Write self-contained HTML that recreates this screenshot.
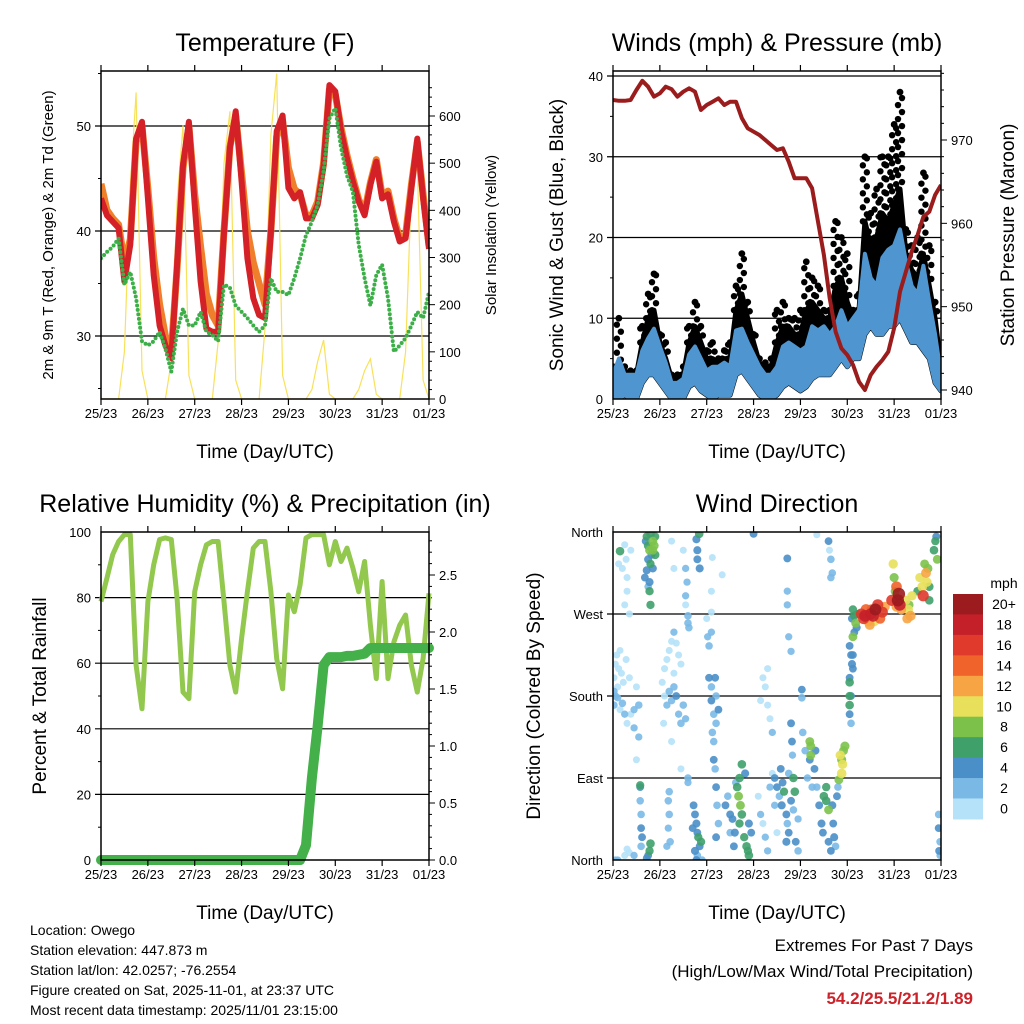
<!DOCTYPE html>
<html><head><meta charset="utf-8"><title>Weather station plots</title>
<style>
html,body{margin:0;padding:0;background:#fff;}
svg{display:block;font-family:"Liberation Sans",Arial,sans-serif;}
</style></head>
<body>
<svg id="chart" width="1024" height="1024" viewBox="0 0 1024 1024">
<rect width="1024" height="1024" fill="#fff"/>
<g id="p1"></g>
<g id="p2"></g>
<g id="p3"></g>
<g id="p4"></g>
<g font-size="14" fill="#000">
<text x="30" y="935">Location: Owego</text>
<text x="30" y="955">Station elevation: 447.873 m</text>
<text x="30" y="975">Station lat/lon: 42.0257; -76.2554</text>
<text x="30" y="995">Figure created on Sat, 2025-11-01, at 23:37 UTC</text>
<text x="30" y="1015">Most recent data timestamp: 2025/11/01 23:15:00</text>
</g>
<g text-anchor="end">
<text x="973" y="951" font-size="17">Extremes For Past 7 Days</text>
<text x="973" y="977" font-size="17">(High/Low/Max Wind/Total Precipitation)</text>
<text x="973" y="1004" font-size="17" font-weight="bold" fill="#cc2229">54.2/25.5/21.2/1.89</text>
</g>
</svg>
<script>
// ---- data (3-hourly samples, 25/23 .. 01/23) ----
const dayLabels = ["25/23","26/23","27/23","28/23","29/23","30/23","31/23","01/23"];
const tempRed = [43.1,41.5,40.9,40.3,35.2,38.7,48.8,50.4,43.1,35.8,31.0,29.1,27.9,36.8,46.3,50.4,42.5,35.2,30.7,30.4,30.4,39.9,47.9,51.4,44.7,37.4,33.6,32.0,31.7,39.9,49.5,51.0,44.1,43.1,43.7,41.2,41.2,42.5,46.3,53.9,53.3,49.5,46.9,44.7,42.8,41.5,44.4,46.6,43.1,43.5,40.9,39.0,39.3,44.1,48.8,43.1,38.3];
const tempOrange = [44.5,42.0,41.2,40.6,37.0,39.2,48.5,50.0,44.0,37.5,33.0,30.0,28.5,36.5,46.0,50.0,43.5,38.5,34.0,32.0,31.0,40.0,48.0,51.0,45.5,40.0,37.0,35.0,33.0,40.0,49.0,50.5,46.0,44.0,43.5,41.5,41.5,42.8,46.5,53.5,53.0,49.8,47.2,45.0,43.0,41.8,44.6,46.8,43.4,43.8,41.2,39.3,39.6,44.4,48.5,43.5,38.6];
const dewGreen = [37.4,38.0,38.5,39.3,34.9,36.1,33.6,29.5,29.1,29.5,30.4,28.8,26.6,30.4,32.6,31.0,31.0,32.3,30.4,30.1,29.5,34.9,34.6,32.9,32.3,31.7,31.0,30.4,31.0,35.5,34.2,34.2,33.9,35.5,37.4,39.6,40.9,42.5,45.7,50.7,51.7,47.9,45.3,43.7,38.7,35.5,32.9,35.8,36.8,33.6,28.5,29.1,29.8,31.0,32.3,31.7,34.2];
const solar = [0,0,0,0,100,450,650,60, 0,0,0,0,80,420,580,50, 0,0,0,0,120,500,610,40, 0,0,0,0,150,560,690,50, 0,0,0,0,20,80,125,10, 0,0,0,0,20,60,85,10, 0,0,0,0,100,450,500,40, 0];
const pressure = [974.8,974.7,974.7,974.8,976.0,977.1,976.4,975.2,975.6,976.4,976.1,975.2,975.8,976.2,975.8,973.6,974.2,974.6,975.0,974.2,974.6,974.6,972.6,971.4,971.0,970.6,970.0,969.4,968.8,969.0,967.4,965.4,965.4,965.4,964.2,960.2,956.2,951.0,947.0,945.0,944.2,943.0,941.0,940.0,941.8,942.8,943.6,944.6,947.4,951.8,954.2,956.6,958.6,960.8,961.4,963.4,964.6];
const windHi = [3,5,3,3,3,6,7.5,8.7,6.5,4.5,2,2,2.5,5.5,6.5,5,3.5,4,4,4.5,4,8.5,8.7,7,5.5,4,3,3,4,6.5,7,6.5,6,6.5,9,8.5,9,8,9,11,9,10,11,18,15,14,17.5,18.5,19,21,17,14,13,16.5,12,8,3];
const windLo = [0,0,0.5,0,0,2,3,3,2,1,0,0,0,1.5,2,1,0.5,0,0.5,0.5,0.5,3,3.5,2.5,1.5,0.5,0,0,0.5,1.5,2,1.5,1,1.5,2.5,3,3,3,4,5,4,5,5,8,9,8,8,9,9,10,8.5,7,7,6,5,2,1];
const gustMid = [3,4,3.5,3,3,7,10,11,7,5,2.5,2.5,3,7,9,7,5,5,4.5,5,5,11,13,10,7,4.5,4,4,7,9,9,8,8,11,12,11,10,10,14,15,12,10,11,22,19,20,23,22,24,26,18,16,15,18,14,10,4];
const gustHi = [4,10,4,3.5,3.5,9,13,15.5,8,7,3,3,4,9,12,9,6,7,5,6,7,14,18,12,8,5,4.5,5,11,12,10,10,11,17,15,14,11,11,22,20,18,11,13,30,23,26,30,30,34,38,21,19,20,28,19,12,5];
const rh = [78.8,85.9,93.1,97.1,99.2,99.2,59.4,46.1,78.8,90,97.7,98.2,97.7,79.8,51.2,49.2,81.8,90,96.1,97.1,97.1,78.8,59.4,51.2,67.6,81.8,95.1,97.1,97.1,81.8,61.4,52.2,80.8,75.7,83.9,98.2,99.2,99.2,99.2,90,97.1,91,95.1,89,81.8,91,71.6,55.3,84.9,55.3,66.5,71.6,74.7,59.4,51.2,61.4,81.3];
const precip = [0,0,0,0,0,0,0,0,0,0,0,0,0,0,0,0,0,0,0,0,0,0,0,0,0,0,0,0,0,0,0,0,0,0,0,0.13,0.72,1.18,1.71,1.78,1.78,1.78,1.79,1.79,1.8,1.81,1.86,1.86,1.86,1.86,1.86,1.86,1.86,1.86,1.86,1.86,1.86];
// wind direction observations: [day, degrees, mph]
const dirObs = [
[0.02,200,1],[0.05,215,1],[0.08,225,1],[0.12,210,1],[0.15,230,0.5],[0.18,205,1],[0.22,195,1],[0.28,220,1],[0.35,200,1],[0.5,190,1],[0.02,170,3],[0.05,180,3],[0.1,178,2],[0.15,165,1],[0.2,172,3],[0.25,160,2],[0.3,150,1],[0.02,185,3],[0.1,190,1],[0.38,160,1],[0.45,145,2],
[0.15,339,7],[0.25,346,1],[0.28,330,1],[0.2,320,1],[0.3,310,1],[0.3,295,1],[0.25,280,1],[0.12,325,1],[0.38,340,1],[0.35,270,1],
[0.25,5,1],[0.3,12,1],[0.35,8,1],[0.45,5,2],[0.05,0,2],[0.1,0,2],
[0.58,80,4],[0.58,65,3],[0.6,50,3],[0.6,35,4],[0.62,25,4],[0.6,15,3],[0.58,82,6],[0.55,135,2],[0.5,110,1],[0.45,165,2],[0.55,170,3],
[0.7,350,5],[0.72,355,6],[0.75,345,7],[0.78,340,8],[0.8,358,7],[0.85,350,8],[0.88,345,8],[0.9,335,7],[0.75,330,5],[0.8,325,6],[0.85,320,5],[0.72,318,5],[0.9,355,6],[0.82,335,5],[0.85,340,8],
[0.78,305,5],[0.78,295,6],[0.8,280,6],[0.68,310,4],[0.75,300,3],[0.8,18,7],[0.78,10,6],[0.75,5,4],[0.72,2,4],
[1.05,195,1],[1.1,210,1],[1.15,220,1],[1.2,230,1],[1.25,240,1],[1.3,250,2],[1.35,238,1],[1.4,225,1],[1.45,215,1],[1.1,180,1],[1.15,170,2],[1.2,185,3],[1.25,175,3],[1.3,190,3],[1.35,180,4],[1.4,160,2],[1.45,150,3],[1.5,170,3],[1.55,155,2],[1.3,205,1],[1.08,150,1],[1.25,130,1],[1.45,100,1],
[1.18,65,3],[1.2,50,3],[1.18,35,2],[1.22,20,3],[1.15,15,2],[1.2,75,3],
[1.25,350,1],[1.3,320,1],[1.5,340,1],[1.55,320,2],[1.58,305,2],[1.55,290,2],[1.55,280,1],[1.6,268,3],[1.62,255,3],[1.6,260,3],[1.6,90,3],[1.6,85,2],
[1.72,60,4],[1.75,50,4],[1.78,40,5],[1.8,30,4],[1.82,25,6],[1.85,15,4],[1.75,10,5],[1.8,5,3],[1.9,0,3],[1.88,20,6],[1.78,0,4],[1.7,35,4],
[1.78,352,5],[1.8,340,5],[1.8,330,4],[1.85,320,5],[1.84,358,7],
[2.0,265,1],[2.02,245,2],[2.05,235,3],[2.1,250,2],[2.05,200,4],[2.1,190,3],[2.1,175,4],[2.15,160,3],[2.2,150,3],[2.18,200,4],[2.2,180,3],[2.25,165,4],[2.12,140,3],[2.15,130,3],
[2.15,110,4],[2.18,100,3],[2.2,80,4],[2.22,60,3],[2.25,40,3],[2.2,25,4],
[2.12,332,1],[2.33,313,1],[2.1,295,1],[2.1,272,1],
[2.4,60,4],[2.45,70,3],[2.5,50,4],[2.55,45,4],[2.6,30,5],[2.65,80,7],[2.68,70,8],[2.7,90,7],[2.72,60,8],[2.75,50,7],[2.7,40,6],[2.8,25,6],[2.85,15,7],[2.9,5,7],[2.88,10,6],[2.75,105,7],[2.82,95,5],[2.5,30,3],[2.58,15,4],[2.62,85,3],[2.9,40,5],[2.95,30,4],
[3.0,358,4],
[3.2,200,1],[3.25,190,1],[3.3,170,1],[3.35,155,1],[3.4,140,2],[3.3,210,1],[3.15,175,1],
[3.1,70,1],[3.15,50,2],[3.2,40,1],[3.25,25,2],[3.3,10,2],[3.35,80,2],[3.4,95,1],[3.45,60,2],[3.5,30,1],
[3.45,90,4],[3.5,80,4],[3.55,70,3],[3.6,60,5],[3.62,85,4],[3.65,75,6],[3.7,50,4],[3.72,40,3],[3.75,30,4],[3.8,65,4],[3.85,55,3],[3.9,20,4],[3.95,10,3],[3.95,45,2],[3.58,100,4],[3.75,95,3],[3.85,90,7],[3.7,20,5],[3.88,75,7],
[3.72,331,4],[3.72,295,2],[3.72,280,2],[3.75,245,2],[3.8,229,2],
[4.03,187,4],[4.03,178,3],[3.8,150,4],[3.82,130,4],[3.83,115,2],
[4.05,140,3],[4.1,120,3],[4.2,130,8],[4.22,125,8],[4.22,115,8],[4.2,110,4],[4.3,100,4],[4.32,120,5],[4.15,90,3],[4.25,80,3],
[4.35,357,1],[4.6,350,4],[4.65,330,3],[4.68,315,3],[4.62,340,1],[4.65,310,3],
[4.35,80,3],[4.4,60,4],[4.45,40,5],[4.48,30,4],[4.5,70,7],[4.55,65,7],[4.6,55,8],[4.6,20,4],[4.65,10,4],[4.7,40,4],[4.72,25,5],[4.75,15,3],[4.55,80,6],[4.68,60,5],
[4.85,115,10],[4.88,110,9],[4.9,105,10],[4.92,120,8],[4.95,125,9],[4.88,95,11],[4.82,88,8],[4.8,80,3],[4.78,70,4],
[5.05,235,4],[5.08,225,4],[5.1,215,5],[5.05,200,4],[5.05,195,7],[5.08,180,4],[5.05,170,7],[5.05,160,4],[5.08,150,3],[5.05,180,6],[5.12,210,4],[5.12,225,4],
[5.12,275,6],[5.15,268,7],[5.18,260,8],[5.2,255,5],[5.1,265,5],[5.15,250,4],[5.22,270,6],[5.12,245,8],
[5.3,270,16],[5.35,265,17],[5.4,275,15],[5.45,262,13],[5.5,270,18],[5.55,268,19],[5.6,275,20],[5.65,280,17],[5.7,265,14],[5.75,272,16],[5.8,278,12],[5.48,258,12],[5.58,262,11],[5.38,268,19],[5.52,275,14],
[5.98,325,10],[6.0,310,9],[6.02,295,8],[5.95,285,17],[6.05,300,15],[6.08,285,21],[6.1,292,22],[6.12,280,19],[6.15,275,13],[6.05,278,12],
[6.25,285,10],[6.3,275,11],[6.35,268,13],[6.28,265,12],[6.32,280,8],[6.38,290,10],
[6.5,295,7],[6.55,310,10],[6.6,300,11],[6.65,325,8],[6.68,315,12],[6.7,305,10],[6.72,320,9],[6.62,290,17],[6.75,300,7],[6.75,285,7],
[6.85,340,7],[6.88,350,6],[6.9,355,5],[6.92,330,8],
[6.95,50,3],[6.95,35,4],[6.98,20,3],[6.96,10,4],[6.98,5,2]
];
const speedLabels = ["0","2","4","6","8","10","12","14","16","18","20+"];
const speedColors = ["#b5e2f8","#7ab9e6","#4a8fc8","#3fa06a","#7cc24a","#e8e05a","#f7a444","#f0632a","#df3a2b","#c4202a","#9b1b1e"];

// ---- helpers ----
const NS = "http://www.w3.org/2000/svg";
function mk(parent, tag, attrs, name) {
  const e = document.createElementNS(NS, tag);
  for (const k in attrs) e.setAttribute(k, attrs[k]);
  
  
  parent.appendChild(e);
  return e;
}
function txt(parent, x, y, s, size, name, extra) {
  const t = mk(parent, 'text', Object.assign({x: x, y: y, 'font-size': size}, extra || {}), name);
  t.textContent = s;
  return t;
}
function lin(d0, d1, r0, r1) { return v => r0 + (v - d0) / (d1 - d0) * (r1 - r0); }
const NPTS = 57;
function tDay(i) { return i * 7 / (NPTS - 1); }

function frame(g, L, T, R, B, title, xTitle) {
  const xs = lin(0, 7, L, R);
  mk(g, 'rect', {x: L, y: T, width: R - L, height: B - T, fill: 'none', stroke: '#000', 'stroke-width': 1.5}, 'plot-frame');
  for (let d = 0; d <= 7; d++) {
    const x = xs(d);
    mk(g, 'line', {x1: x, y1: B, x2: x, y2: B + 6, stroke: '#000', 'stroke-width': 1.2}, 'x-tick');
    mk(g, 'line', {x1: x, y1: T, x2: x, y2: T - 6, stroke: '#000', 'stroke-width': 1.2}, 'x-tick-top');
    txt(g, x, B + 19, dayLabels[d], 13, 'x-tick-label', {'text-anchor': 'middle'});
  }
  txt(g, (L + R) / 2, T - 20, title, 25, 'panel-title', {'text-anchor': 'middle'});
  txt(g, (L + R) / 2, B + 59, xTitle, 19, 'x-axis-title', {'text-anchor': 'middle'});
  return xs;
}
function yTitle(g, x, y, s, size, name) {
  txt(g, 0, 0, s, size, name, {'text-anchor': 'middle', transform: 'translate(' + x + ',' + y + ') rotate(-90)'});
}
function pathFrom(xs, ys, xArr, yArr) {
  let d = '';
  for (let i = 0; i < yArr.length; i++) d += (i ? 'L' : 'M') + xs(xArr[i]).toFixed(1) + ',' + ys(yArr[i]).toFixed(1);
  return d;
}
const days = [];
for (let i = 0; i < NPTS; i++) days.push(tDay(i));

// ---- Panel 1: temperature ----
(function () {
  const g = document.getElementById('p1');
  const L = 101, T = 71, R = 429, B = 399;
  const ys = lin(30, 50, 336, 126);
  const ysR = lin(0, 600, 399, 116);
  const clip = mk(g, 'clipPath', {id: 'c1'}, 'clip');
  mk(clip, 'rect', {x: L, y: T, width: R - L, height: B - T}, 'clip-rect');
  [30, 40, 50].forEach(v => {
    mk(g, 'line', {x1: L - 6, y1: ys(v), x2: R, y2: ys(v), stroke: '#000', 'stroke-width': 1.2}, 'y-gridline');
    txt(g, L - 10, ys(v) + 5, String(v), 13, 'y-tick-label', {'text-anchor': 'end'});
  });
  [25, 35, 45, 55].forEach(v => mk(g, 'line', {x1: L - 3, y1: ys(v), x2: L, y2: ys(v), stroke: '#000'}, 'y-minor-tick'));
  for (let v = 0; v <= 660; v += 20) {
    const major = v % 100 === 0;
    mk(g, 'line', {x1: R, y1: ysR(v), x2: R + (major ? 6 : 3), y2: ysR(v), stroke: '#000'}, 'y2-tick');
    if (major) txt(g, R + 10, ysR(v) + 5, String(v), 13, 'y2-tick-label');
  }
  const pg = mk(g, 'g', {'clip-path': 'url(#c1)'}, 'temperature-series');
  mk(pg, 'path', {d: pathFrom(lin(0,7,L,R), ysR, days, solar), fill: 'none', stroke: '#f8e15a', 'stroke-width': 1.2}, 'solar-insolation-line');
  mk(pg, 'path', {d: pathFrom(lin(0,7,L,R), ys, days, tempOrange), fill: 'none', stroke: '#f07f2b', 'stroke-width': 7, 'stroke-linejoin': 'round'}, 'temp-9m-line');
  mk(pg, 'path', {d: pathFrom(lin(0,7,L,R), ys, days, tempRed), fill: 'none', stroke: '#d42027', 'stroke-width': 6, 'stroke-linejoin': 'round'}, 'temp-2m-line');
  mk(pg, 'path', {d: pathFrom(lin(0,7,L,R), ys, days, dewGreen), fill: 'none', stroke: '#3daf49', 'stroke-width': 4, 'stroke-linecap': 'round', 'stroke-dasharray': '0 4.5'}, 'dewpoint-line');
  frame(g, L, T, R, B, 'Temperature (F)', 'Time (Day/UTC)');
  yTitle(g, 53, 235, '2m & 9m T (Red, Orange) & 2m Td (Green)', 15, 'y-axis-title');
  yTitle(g, 496, 235, 'Solar Insolation (Yellow)', 15, 'y2-axis-title');
})();

// ---- Panel 2: winds & pressure ----
(function () {
  const g = document.getElementById('p2');
  const L = 613, T = 71, R = 941, B = 399;
  const ys = lin(0, 40, 399, 76);
  const ysR = lin(940, 970, 390, 140);
  const xs = lin(0, 7, L, R);
  const clip = mk(g, 'clipPath', {id: 'c2'}, 'clip');
  mk(clip, 'rect', {x: L, y: T, width: R - L, height: B - T}, 'clip-rect');
  [10, 20, 30, 40].forEach(v => {
    mk(g, 'line', {x1: L - 6, y1: ys(v), x2: R, y2: ys(v), stroke: '#000', 'stroke-width': 1.2}, 'y-gridline');
  });
  [0, 10, 20, 30, 40].forEach(v => txt(g, L - 10, ys(v) + 5, String(v), 13, 'y-tick-label', {'text-anchor': 'end'}));
  [5, 15, 25, 35].forEach(v => mk(g, 'line', {x1: L - 3, y1: ys(v), x2: L, y2: ys(v), stroke: '#000'}, 'y-minor-tick'));
  for (let v = 940; v <= 978; v += 2) {
    const major = v % 10 === 0;
    mk(g, 'line', {x1: R, y1: ysR(v), x2: R + (major ? 6 : 3), y2: ysR(v), stroke: '#000'}, 'y2-tick');
    if (major) txt(g, R + 10, ysR(v) + 5, String(v), 13, 'y2-tick-label');
  }
  const pg = mk(g, 'g', {'clip-path': 'url(#c2)'}, 'wind-series');
  // dense gust area
  let gd = '';
  for (let i = 0; i < NPTS; i++) gd += (i ? 'L' : 'M') + xs(days[i]).toFixed(1) + ',' + ys(gustMid[i]).toFixed(1);
  for (let i = NPTS - 1; i >= 0; i--) gd += 'L' + xs(days[i]).toFixed(1) + ',' + ys(windLo[i]).toFixed(1);
  mk(pg, 'path', {d: gd + 'Z', fill: '#000', stroke: '#000', 'stroke-width': 5, 'stroke-linejoin': 'round'}, 'gust-dense-area');
  // sparse gust dots above
  for (let i = 0; i < NPTS; i++) {
    const x = xs(days[i]);
    const y0 = ys(gustMid[i]), y1 = ys(gustHi[i]);
    let n = 0;
    for (let y = y0; y >= y1 - 0.1; y -= 7) {
      const off = (n % 2 ? 2 : -2);
      const c = mk(pg, 'circle', {cx: x + off, cy: y, r: 3.2, fill: '#000'}, 'gust-dot');
      n++;
    }
    mk(pg, 'circle', {cx: x, cy: y1, r: 3.4, fill: '#000'}, 'gust-peak-dot');
  }
  let d = '';
  for (let i = 0; i < NPTS; i++) d += (i ? 'L' : 'M') + xs(days[i]).toFixed(1) + ',' + ys(windHi[i]).toFixed(1);
  for (let i = NPTS - 1; i >= 0; i--) d += 'L' + xs(days[i]).toFixed(1) + ',' + ys(windLo[i]).toFixed(1);
  mk(pg, 'path', {d: d + 'Z', fill: '#4f96d0', stroke: '#4f96d0', 'stroke-width': 4, 'stroke-linejoin': 'round'}, 'sonic-wind-band');
  mk(pg, 'path', {d: pathFrom(xs, ysR, days, pressure), fill: 'none', stroke: '#9b1c1c', 'stroke-width': 4, 'stroke-linejoin': 'round'}, 'pressure-line');
  frame(g, L, T, R, B, 'Winds (mph) & Pressure (mb)', 'Time (Day/UTC)');
  yTitle(g, 563, 235, 'Sonic Wind & Gust (Blue, Black)', 19, 'y-axis-title');
  yTitle(g, 1014, 235, 'Station Pressure (Maroon)', 19, 'y2-axis-title');
})();

// ---- Panel 3: RH & precipitation ----
(function () {
  const g = document.getElementById('p3');
  const L = 101, T = 532, R = 429, B = 860;
  const ys = lin(0, 100, 860, 532);
  const ysR = lin(0, 2.5, 860, 575);
  const xs = lin(0, 7, L, R);
  const clip = mk(g, 'clipPath', {id: 'c3'}, 'clip');
  mk(clip, 'rect', {x: L - 6, y: T, width: R - L + 12, height: B - T + 6}, 'clip-rect');
  [0, 20, 40, 60, 80, 100].forEach(v => {
    if (v > 0 && v < 100) mk(g, 'line', {x1: L - 6, y1: ys(v), x2: R, y2: ys(v), stroke: '#000', 'stroke-width': 1.2}, 'y-gridline');
    txt(g, L - 10, ys(v) + 5, String(v), 13, 'y-tick-label', {'text-anchor': 'end'});
  });
  [10, 30, 50, 70, 90].forEach(v => mk(g, 'line', {x1: L - 3, y1: ys(v), x2: L, y2: ys(v), stroke: '#000'}, 'y-minor-tick'));
  for (let k = 0; k <= 28; k++) {
    const v = k / 10, major = k % 5 === 0;
    mk(g, 'line', {x1: R, y1: ysR(v), x2: R + (major ? 6 : 3), y2: ysR(v), stroke: '#000'}, 'y2-tick');
    if (major) txt(g, R + 10, ysR(v) + 5, v.toFixed(1), 13, 'y2-tick-label');
  }
  const pg = mk(g, 'g', {'clip-path': 'url(#c3)'}, 'humidity-series');
  mk(pg, 'path', {d: pathFrom(xs, ys, days, rh), fill: 'none', stroke: '#92c84e', 'stroke-width': 5, 'stroke-linejoin': 'round'}, 'rh-line');
  mk(pg, 'path', {d: pathFrom(xs, ysR, days, precip), fill: 'none', stroke: '#43b04a', 'stroke-width': 10, 'stroke-linejoin': 'round', 'stroke-linecap': 'round'}, 'precip-line');
  frame(g, L, T, R, B, 'Relative Humidity (%) & Precipitation (in)', 'Time (Day/UTC)');
  yTitle(g, 46, 696, 'Percent & Total Rainfall', 19, 'y-axis-title');
})();

// ---- Panel 4: wind direction ----
(function () {
  const g = document.getElementById('p4');
  const L = 613, T = 532, R = 941, B = 860;
  const ys = lin(0, 360, 860, 532);
  const xs = lin(0, 7, L, R);
  const dirNames = ['North', 'East', 'South', 'West', 'North'];
  [0, 90, 180, 270, 360].forEach((v, i) => {
    if (v > 0 && v < 360) mk(g, 'line', {x1: L - 6, y1: ys(v), x2: R, y2: ys(v), stroke: '#000', 'stroke-width': 1.2}, 'y-gridline');
    txt(g, L - 10, ys(v) + 5, dirNames[i], 13, 'y-tick-label', {'text-anchor': 'end'});
  });
  const clip = mk(g, 'clipPath', {id: 'c4'}, 'clip');
  mk(clip, 'rect', {x: L, y: T, width: R - L, height: B - T}, 'clip-rect');
  const pg = mk(g, 'g', {'clip-path': 'url(#c4)', 'fill-opacity': 0.9}, 'direction-points');
  const sorted = dirObs.slice().sort((a, b) => a[2] - b[2]);
  sorted.forEach(o => {
    const idx = Math.min(10, Math.floor(o[2] / 2));
    mk(pg, 'circle', {cx: xs(o[0]), cy: ys(o[1]), r: 3.4 + o[2] * 0.13, fill: speedColors[idx]}, 'direction-point');
  });
  frame(g, L, T, R, B, 'Wind Direction', 'Time (Day/UTC)');
  yTitle(g, 540, 696, 'Direction (Colored By Speed)', 19, 'y-axis-title');
  // colorbar
  const cb = mk(g, 'g', {}, 'speed-colorbar');
  const cbTop = 594, h = 20.45;
  txt(cb, 1004, 588, 'mph', 14, 'colorbar-title', {'text-anchor': 'middle'});
  for (let i = 0; i < 11; i++) {
    const j = 10 - i;
    mk(cb, 'rect', {x: 953, y: cbTop + i * h, width: 30, height: h + 0.5, fill: speedColors[j]}, 'colorbar-swatch');
    txt(cb, 1004, cbTop + i * h + 15, speedLabels[j], 14, 'colorbar-label', {'text-anchor': 'middle'});
  }
})();
</script>
</body></html>
